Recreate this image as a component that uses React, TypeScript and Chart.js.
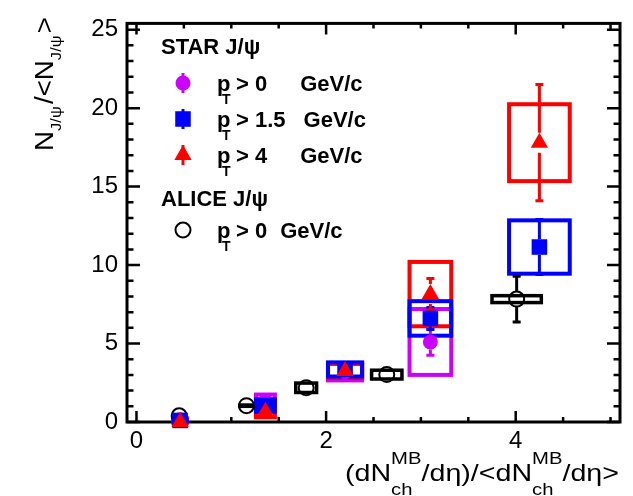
import React, { useEffect, useRef } from 'react';
import { Chart, registerables } from 'chart.js';

Chart.register(...registerables);

// ---------- data ----------
const starX = [0.46, 1.36, 2.2, 3.1, 4.25];
const starBoxHalfX = [0.07, 0.1, 0.18, 0.22, 0.32];

const starPt0 = [0.15, 1.3, 3.2, 5.1, null];
const starPt0Stat = [0.05, 0.1, 0.15, 0.85, null];
const starPt0Sys = [0.1, 0.45, 0.55, 2.1, null];

const starPt15 = [0.1, 1.05, 3.35, 6.6, 11.15];
const starPt15Stat = [0.05, 0.1, 0.2, 0.7, 1.75];
const starPt15Sys = [0.08, 0.4, 0.45, 1.1, 1.7];

const starPt4 = [0.0, 0.65, 3.25, 8.15, 17.8];
const starPt4Stat = [0.05, 0.1, 0.25, 1.0, 3.7];
const starPt4Sys = [0.08, 0.35, 0.45, 2.05, 2.45];

const aliceX = [0.45, 1.16, 1.79, 2.64, 4.01];
const aliceBoxHalfX = [0.04, 0.07, 0.11, 0.16, 0.26];
const aliceY = [0.4, 1.04, 2.18, 3.02, 7.83];
const aliceStat = [0.05, 0.1, 0.15, 0.15, 1.45];
const aliceSys = [0.03, 0.04, 0.3, 0.28, 0.22];

const xTickLabels = [0, 2, 4];
const yTickLabels = [0, 5, 10, 15, 20, 25];

const FONT = '"Liberation Sans", Arial, Helvetica, sans-serif';
const MAGENTA = '#CC00FF';
const BLUE = '#0000FF';
const RED = '#FF0000';
const BLACK = '#000000';

type Series = {
  key: string;
  cut: string;
  unitGap: number;
  color: string;
  style: 'circle' | 'rect' | 'triangle';
  radius: number;
  open: boolean;
  xs: number[];
  halfX: number[];
  vals: (number | null)[];
  stat: (number | null)[];
  sys: (number | null)[];
};

const magentaS: Series = { key: 'm', cut: '0', unitGap: 33, color: MAGENTA, style: 'circle', radius: 7.5, open: false, xs: starX, halfX: starBoxHalfX, vals: starPt0, stat: starPt0Stat, sys: starPt0Sys };
const blueS: Series = { key: 'b', cut: '1.5', unitGap: 18, color: BLUE, style: 'rect', radius: 11, open: false, xs: starX, halfX: starBoxHalfX, vals: starPt15, stat: starPt15Stat, sys: starPt15Sys };
const redS: Series = { key: 'r', cut: '4', unitGap: 33, color: RED, style: 'triangle', radius: 10, open: false, xs: starX, halfX: starBoxHalfX, vals: starPt4, stat: starPt4Stat, sys: starPt4Sys };
const aliceS: Series = { key: 'a', cut: '0', unitGap: 13, color: BLACK, style: 'circle', radius: 7.5, open: true, xs: aliceX, halfX: aliceBoxHalfX, vals: aliceY, stat: aliceStat, sys: aliceSys };

const boxOrder = [aliceS, magentaS, redS, blueS];
const barOrder = [aliceS, magentaS, blueS, redS];
const datasetOrder = [redS, blueS, magentaS, aliceS]; // first drawn on top

// ---------- rich text ----------
type Seg = { t: string; size: number; dy?: number; bold?: boolean; stack?: boolean; gap?: number };
const segFont = (s: Seg) => `${s.bold ? 'bold ' : ''}${s.size}px ${FONT}`;

function layoutRich(ctx: CanvasRenderingContext2D, segs: Seg[]) {
  let x = 0;
  const items: { seg: Seg; x: number }[] = [];
  for (let i = 0; i < segs.length; i++) {
    const s = segs[i];
    ctx.font = segFont(s);
    const w = ctx.measureText(s.t).width;
    if (s.stack && i + 1 < segs.length) {
      const n = segs[i + 1];
      ctx.font = segFont(n);
      const w2 = ctx.measureText(n.t).width;
      items.push({ seg: s, x });
      items.push({ seg: n, x });
      x += Math.max(w, w2) + (s.gap || 0);
      i++;
    } else {
      items.push({ seg: s, x });
      x += w + (s.gap || 0);
    }
  }
  return { items, width: x };
}

function drawRich(
  ctx: CanvasRenderingContext2D,
  segs: Seg[],
  x: number,
  y: number,
  align: 'left' | 'right',
  targetWidth: number | null,
  rotate = 0
) {
  const { items, width } = layoutRich(ctx, segs);
  const sx = targetWidth ? targetWidth / width : 1;
  ctx.save();
  ctx.translate(x, y);
  if (rotate) ctx.rotate(rotate);
  ctx.scale(sx, 1);
  const start = align === 'right' ? -width : 0;
  ctx.fillStyle = '#000';
  ctx.textAlign = 'left';
  ctx.textBaseline = 'alphabetic';
  for (const it of items) {
    ctx.font = segFont(it.seg);
    ctx.fillText(it.seg.t, start + it.x, it.seg.dy || 0);
  }
  ctx.restore();
}

// ---------- marker drawing (legend) ----------
function drawMarker(ctx: CanvasRenderingContext2D, s: Series, x: number, y: number) {
  ctx.save();
  ctx.fillStyle = s.color;
  ctx.strokeStyle = s.color;
  ctx.beginPath();
  if (s.style === 'circle') {
    ctx.arc(x, y, s.radius, 0, Math.PI * 2);
  } else if (s.style === 'rect') {
    const h = s.radius * Math.SQRT1_2;
    ctx.rect(x - h, y - h, 2 * h, 2 * h);
  } else {
    const r = s.radius;
    ctx.moveTo(x, y - r);
    ctx.lineTo(x + r * Math.sin((2 * Math.PI) / 3), y - r * Math.cos((2 * Math.PI) / 3));
    ctx.lineTo(x + r * Math.sin((4 * Math.PI) / 3), y - r * Math.cos((4 * Math.PI) / 3));
    ctx.closePath();
  }
  if (s.open) {
    ctx.lineWidth = 2;
    ctx.stroke();
  } else {
    ctx.fill();
  }
  ctx.restore();
}

function drawLegendLabel(ctx: CanvasRenderingContext2D, s: Series, x: number, y: number) {
  ctx.save();
  ctx.fillStyle = '#000';
  ctx.textAlign = 'left';
  ctx.textBaseline = 'alphabetic';
  ctx.font = `bold 22px ${FONT}`;
  ctx.fillText('p', x, y);
  ctx.fillText('>', x + 19, y);
  ctx.fillText(s.cut, x + 38, y);
  const cx = x + 38 + ctx.measureText(s.cut).width + s.unitGap;
  ctx.fillText('GeV/c', cx, y);
  ctx.font = `bold 14px ${FONT}`;
  ctx.fillText('T', x + 5, y + 13);
  ctx.restore();
}

const rootPlugin = {
  id: 'rootStyle',
  beforeDatasetsDraw(chart: any) {
    const ctx: CanvasRenderingContext2D = chart.ctx;
    const xs = chart.scales.x;
    const ys = chart.scales.y;
    const a = chart.chartArea;
    ctx.save();
    // frame
    ctx.strokeStyle = '#000';
    ctx.lineWidth = 3;
    ctx.strokeRect(a.left, a.top, a.right - a.left, a.bottom - a.top);
    // ticks
    ctx.lineWidth = 2.5;
    ctx.beginPath();
    for (let k = 0; k <= 10; k++) {
      const v = k * 0.5;
      const px = xs.getPixelForValue(v);
      const major = k % 4 === 0;
      const L = major ? 11 : 5;
      ctx.moveTo(px, a.bottom);
      ctx.lineTo(px, a.bottom - L);
      ctx.moveTo(px, a.top);
      ctx.lineTo(px, a.top + L);
    }
    for (let v = 0; v <= 25; v++) {
      const py = ys.getPixelForValue(v);
      const major = v % 5 === 0;
      const L = major ? 13 : 6.5;
      ctx.moveTo(a.left, py);
      ctx.lineTo(a.left + L, py);
      ctx.moveTo(a.right, py);
      ctx.lineTo(a.right - L, py);
    }
    ctx.stroke();

    // systematic boxes
    for (const s of boxOrder) {
      ctx.strokeStyle = s.color;
      ctx.lineWidth = s.open ? 3.5 : 4;
      for (let i = 0; i < s.xs.length; i++) {
        const v = s.vals[i];
        const sy = s.sys[i];
        if (v == null || sy == null) continue;
        const x0 = xs.getPixelForValue(s.xs[i] - s.halfX[i]);
        const x1 = xs.getPixelForValue(s.xs[i] + s.halfX[i]);
        const y0 = ys.getPixelForValue(v + sy);
        const y1 = ys.getPixelForValue(v - sy);
        ctx.strokeRect(x0, y0, x1 - x0, y1 - y0);
      }
    }
    // statistical error bars
    for (const s of barOrder) {
      ctx.strokeStyle = s.color;
      ctx.lineWidth = 3;
      for (let i = 0; i < s.xs.length; i++) {
        const v = s.vals[i];
        const st = s.stat[i];
        if (v == null || st == null) continue;
        const px = xs.getPixelForValue(s.xs[i]);
        const py = ys.getPixelForValue(v);
        const yt = ys.getPixelForValue(v + st);
        const yb = ys.getPixelForValue(v - st);
        const r = s.style === 'rect' ? s.radius * Math.SQRT1_2 : s.radius;
        ctx.beginPath();
        if (py - yt > r) {
          ctx.moveTo(px, py - r);
          ctx.lineTo(px, yt);
          ctx.moveTo(px - 4, yt);
          ctx.lineTo(px + 4, yt);
        }
        if (yb - py > r) {
          ctx.moveTo(px, py + r);
          ctx.lineTo(px, yb);
          ctx.moveTo(px - 4, yb);
          ctx.lineTo(px + 4, yb);
        }
        ctx.stroke();
      }
    }
    ctx.restore();
  },
  afterDatasetsDraw(chart: any) {
    const ctx: CanvasRenderingContext2D = chart.ctx;
    ctx.save();
    // legend
    ctx.fillStyle = '#000';
    ctx.textAlign = 'left';
    ctx.textBaseline = 'alphabetic';
    ctx.font = `bold 22px ${FONT}`;
    ctx.fillText('STAR J/\u03C8', 161, 54);
    const rows: [Series, number][] = [
      [magentaS, 83],
      [blueS, 119],
      [redS, 155],
    ];
    for (const [s, cy] of rows) {
      ctx.strokeStyle = s.color;
      ctx.lineWidth = 3;
      ctx.beginPath();
      ctx.moveTo(183, cy - 10);
      ctx.lineTo(183, cy + 10);
      ctx.stroke();
      drawMarker(ctx, s, 183, cy);
      drawLegendLabel(ctx, s, 217, cy + 8);
    }
    ctx.font = `bold 22px ${FONT}`;
    ctx.fillStyle = '#000';
    ctx.fillText('ALICE J/\u03C8', 161, 206);
    drawMarker(ctx, aliceS, 183, 230);
    drawLegendLabel(ctx, aliceS, 217, 238);

    // x title
    drawRich(
      ctx,
      [
        { t: '(dN', size: 24 },
        { t: 'MB', size: 17, dy: -17, stack: true },
        { t: 'ch', size: 17, dy: 14 },
        { t: '/d\u03B7)/<dN', size: 24 },
        { t: 'MB', size: 17, dy: -17, stack: true },
        { t: 'ch', size: 17, dy: 14 },
        { t: '/d\u03B7>', size: 24 },
      ],
      619,
      481,
      'right',
      274
    );
    // y title (rotated)
    drawRich(
      ctx,
      [
        { t: 'N', size: 25 },
        { t: 'J/\u03C8', size: 15, dy: 8, gap: 2 },
        { t: '/<N', size: 25 },
        { t: 'J/\u03C8', size: 15, dy: 8, gap: 2 },
        { t: '>', size: 25 },
      ],
      53,
      151,
      'left',
      134,
      -Math.PI / 2
    );
    ctx.restore();
  },
};

export default function App() {
  const ref = useRef<HTMLCanvasElement | null>(null);
  useEffect(() => {
    if (!ref.current) return;
    const datasets = datasetOrder.map((s) => ({
      label: s.key,
      data: s.xs
        .map((x, i) => ({ x, y: s.vals[i] }))
        .filter((p) => p.y != null),
      pointStyle: s.style,
      pointRadius: s.radius,
      pointHoverRadius: s.radius,
      pointBackgroundColor: s.open ? 'rgba(0,0,0,0)' : s.color,
      pointBorderColor: s.color,
      pointBorderWidth: s.open ? 2 : 0,
      showLine: false,
      clip: false as any,
    }));
    const chart = new Chart(ref.current, {
      type: 'scatter',
      data: { datasets },
      options: {
        animation: false,
        responsive: false,
        devicePixelRatio: 1,
        events: [],
        layout: { padding: { left: 0, right: 13, top: 13, bottom: 0 } },
        plugins: { legend: { display: false }, tooltip: { enabled: false } },
        scales: {
          x: {
            type: 'linear',
            min: -0.1,
            max: 5.1,
            grid: { display: false, drawTicks: false },
            border: { display: false },
            ticks: {
              autoSkip: false,
              maxRotation: 0,
              padding: 5,
              color: '#000',
              font: { family: FONT, size: 24 },
              callback: (v: any) => String(v),
            },
            afterBuildTicks: (s: any) => {
              s.ticks = xTickLabels.map((v) => ({ value: v }));
            },
            afterFit: (s: any) => {
              s.height = 74;
            },
          },
          y: {
            type: 'linear',
            min: 0,
            max: 25.4,
            grid: { display: false, drawTicks: false },
            border: { display: false },
            ticks: {
              autoSkip: false,
              padding: 9,
              color: '#000',
              font: { family: FONT, size: 24 },
              callback: (v: any) => String(v),
            },
            afterBuildTicks: (s: any) => {
              s.ticks = yTickLabels.map((v) => ({ value: v }));
            },
            afterFit: (s: any) => {
              s.width = 127;
            },
          },
        },
      },
      plugins: [rootPlugin],
    });
    return () => chart.destroy();
  }, []);
  return (
    <div style={{ position: 'absolute', left: 0, top: 0, width: 633, height: 496, background: '#fff' }}>
      <canvas ref={ref} width={633} height={496} style={{ display: 'block' }} />
    </div>
  );
}
